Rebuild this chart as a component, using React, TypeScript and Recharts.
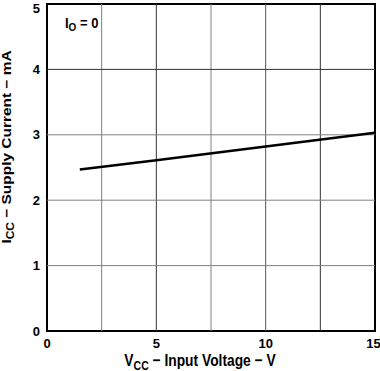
import { ComposedChart, Line, XAxis, YAxis, ReferenceLine, ReferenceArea } from "recharts";

const voltage = [1.5, 5, 10, 15];
const current = [2.47, 2.61, 2.82, 3.03];
const xTicks = [0, 5, 10, 15];
const yTicks = [0, 1, 2, 3, 4, 5];
const vGrid = [2.5, 5, 7.5, 10, 12.5];
const vGridColor = ["#808080", "#333333", "#808080", "#555555", "#333333"];
const hGrid = [1, 2, 3, 4];
const hGridColor = ["#808080", "#808080", "#808080", "#333333"];

const data = voltage.map((v, i) => ({ v, i: current[i] }));

const font = "'Liberation Sans', Arial, sans-serif";

export default function App() {
  return (
    <>
      <style>{`body{margin:0}`}</style>
      <ComposedChart
        width={380}
        height={371}
        data={data}
        margin={{ top: 4, right: 5, left: 0, bottom: 20 }}
      >
        <XAxis
          dataKey="v"
          type="number"
          domain={[0, 15]}
          ticks={xTicks}
          axisLine={false}
          tickLine={false}
          height={20}
          tick={{ fontSize: 13, fontWeight: 700, fill: "#000", fontFamily: font }}
          tickMargin={2}
        />
        <YAxis
          type="number"
          domain={[0, 5]}
          ticks={yTicks}
          axisLine={false}
          tickLine={false}
          width={47}
          tick={{ fontSize: 13, fontWeight: 700, fill: "#000", fontFamily: font }}
          tickMargin={1}
        />
        {vGrid.map((x, k) => (
          <ReferenceLine key={"v" + x} x={x} stroke={vGridColor[k]} strokeWidth={1} />
        ))}
        {hGrid.map((y, k) => (
          <ReferenceLine key={"h" + y} y={y} stroke={hGridColor[k]} strokeWidth={1} />
        ))}
        <ReferenceArea x1={0} x2={15} y1={0} y2={5} fill="none" stroke="#000" strokeWidth={2} />
        <Line
          dataKey="i"
          type="linear"
          stroke="#000"
          strokeWidth={2.5}
          dot={false}
          isAnimationActive={false}
        />
        <text
          x={0}
          y={0}
          transform="translate(65,28) scale(1,1.15)"
          fontFamily={font}
          fontWeight={700}
          fontSize={13}
          fill="#000"
        >
          I<tspan fontSize={10} dy={3}>O</tspan>
          <tspan dy={-3}> = 0</tspan>
        </text>
        <text
          x={0}
          y={0}
          transform="translate(200,366) scale(1,1.2)"
          textAnchor="middle"
          fontFamily={font}
          fontWeight={700}
          fontSize={13.8}
          fill="#000"
        >
          V<tspan fontSize={10.5} dy={3}>CC</tspan>
          <tspan dy={-3}> − Input Voltage − V</tspan>
        </text>
        <text
          x={0}
          y={0}
          transform="translate(11,147) rotate(-90) scale(1.19,1)"
          textAnchor="middle"
          fontFamily={font}
          fontWeight={700}
          fontSize={13}
          fill="#000"
        >
          I<tspan fontSize={10} dy={3}>CC</tspan>
          <tspan dy={-3}> − Supply Current − mA</tspan>
        </text>
      </ComposedChart>
    </>
  );
}
